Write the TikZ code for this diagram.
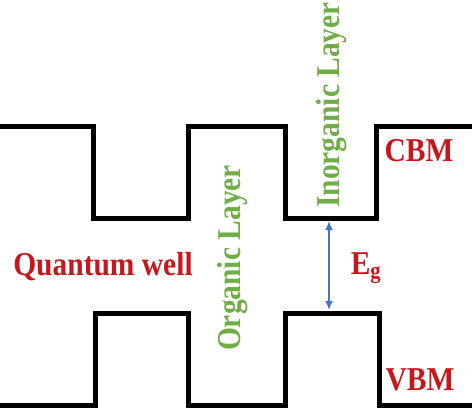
\documentclass[tikz,border=0pt]{standalone}
\usepackage{fontspec}
\setmainfont{Liberation Serif}
\usetikzlibrary{arrows.meta}
\definecolor{lblred}{HTML}{C8161D}
\definecolor{lblgreen}{HTML}{70AD47}
\definecolor{arrblue}{HTML}{4472C4}
\newcommand{\tallt}[1]{\scalebox{1}[1.13]{#1}}
\begin{document}
\begin{tikzpicture}[x=1pt,y=-1pt,
  band/.style={line width=5pt, line join=miter, black},
  redlbl/.style={text=lblred, font=\bfseries\fontsize{29.5}{31}\selectfont, inner sep=0pt},
  greenlbl/.style={text=lblgreen, font=\bfseries\fontsize{29.5}{31}\selectfont, inner sep=0pt, rotate=90},
  gaparrow/.style={arrblue, line width=2pt, {Latex[length=9pt,width=8pt]}-{Latex[length=9pt,width=8pt]}}]
\useasboundingbox (0,0) rectangle (474,413);
% conduction band
\draw[band] (0,126) -- (93,126) -- (93,218) -- (188,218) -- (188,126) -- (285,126)
  -- (285,218) -- (376,218) -- (376,126) -- (472,126);
% valence band
\draw[band] (0,405) -- (95,405) -- (95,313) -- (188,313) -- (188,405) -- (285,405)
  -- (285,313) -- (379,313) -- (379,405) -- (472,405);
% labels
\node[redlbl] (qw) at (103,267) {\tallt{Quantum well}};
\node[redlbl] (cbm) at (419,151) {\tallt{CBM}};
\node[redlbl] (vbm) at (420,380) {\tallt{VBM}};
\node[redlbl] (eg) at (366,268) {\tallt{E\textsubscript{g}}};
\node[greenlbl] (org) at (233,258) {\tallt{Organic Layer}};
\node[greenlbl, anchor=west] (inorg) at (332,208) {\tallt{Inorganic Layer}};
% gap arrow
\coordinate (gtop) at (329,221);
\coordinate (gbot) at (329,310);
\draw[gaparrow] (gtop) -- (gbot);
\end{tikzpicture}
\end{document}
